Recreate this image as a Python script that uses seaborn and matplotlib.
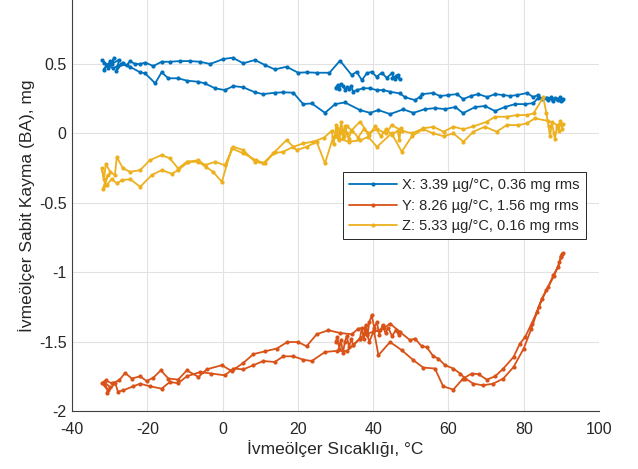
import matplotlib
matplotlib.use('Agg')
import pandas as pd
import matplotlib.pyplot as plt
import seaborn as sns

# Değerler: (sıcaklık °C, sabit kayma mg)
# X ekseni: başlangıç kümesi + ısıtma, soğutma, ikinci ısıtma
x_isitma1 = [(30.0, 0.33), (30.6, 0.35), (31.0, 0.32), (31.5, 0.355), (32.1, 0.34), (32.6, 0.31),
             (33.0, 0.335), (33.6, 0.32), (34.2, 0.34), (34.7, 0.30), (35.6, 0.312), (37.4, 0.325),
             (39.2, 0.325), (40.9, 0.312), (42.7, 0.312), (44.5, 0.30), (47.1, 0.288), (48.5, 0.26),
             (51.1, 0.24), (52.5, 0.264), (53.0, 0.283), (55.9, 0.291), (57.8, 0.269), (59.9, 0.276),
             (62.3, 0.283), (63.9, 0.247), (66.0, 0.27), (67.9, 0.283), (70.3, 0.262), (72.4, 0.283),
             (74.5, 0.276), (76.4, 0.27), (78.2, 0.276), (80.9, 0.291), (82.5, 0.262), (83.8, 0.276),
             (84.9, 0.247), (85.8, 0.255), (86.5, 0.24), (87.2, 0.26), (87.8, 0.235), (88.4, 0.255),
             (89.0, 0.24), (89.6, 0.26), (90.2, 0.24), (90.4, 0.25), (89.8, 0.235), (88.8, 0.25),
             (87.5, 0.245), (86.3, 0.255)]
x_sogutma = [(85.1, 0.254), (83.8, 0.254), (82.5, 0.218), (80.4, 0.211), (77.7, 0.211), (75.0, 0.190),
             (72.4, 0.161), (69.7, 0.197), (67.1, 0.190), (63.9, 0.146), (61.8, 0.190), (59.1, 0.175),
             (56.4, 0.182), (53.8, 0.175), (50.7, 0.148), (48.0, 0.173), (44.5, 0.139), (41.4, 0.168),
             (39.2, 0.148), (36.5, 0.168), (32.5, 0.223), (29.9, 0.211), (27.2, 0.148), (23.7, 0.216),
             (21.4, 0.211), (18.8, 0.293), (16.1, 0.296), (13.9, 0.293), (10.8, 0.283), (8.6, 0.296),
             (5.5, 0.332), (2.9, 0.341), (0.6, 0.312), (-2.0, 0.325), (-4.7, 0.36), (-6.4, 0.372),
             (-9.5, 0.38), (-11.8, 0.397), (-14.4, 0.397), (-16.2, 0.44), (-17.9, 0.361), (-20.6, 0.433),
             (-21.9, 0.44), (-24.6, 0.48), (-27.0, 0.50), (-29.0, 0.47), (-30.5, 0.49)]
x_isitma2 = [(-31.5, 0.51), (-32.0, 0.53), (-30.8, 0.49), (-31.6, 0.46), (-29.8, 0.52), (-30.5, 0.47),
             (-28.8, 0.54), (-29.5, 0.50), (-27.5, 0.53), (-28.2, 0.45), (-26.5, 0.51), (-25.5, 0.49),
             (-24.6, 0.52), (-23.2, 0.50), (-21.9, 0.50), (-20.5, 0.51), (-18.4, 0.485), (-16.2, 0.516),
             (-14.0, 0.516), (-11.3, 0.521), (-8.7, 0.521), (-6.0, 0.516), (-3.3, 0.50), (0.2, 0.536),
             (2.7, 0.545), (5.5, 0.505), (8.6, 0.529), (11.3, 0.492), (13.9, 0.461), (17.0, 0.48),
             (20.1, 0.437), (22.3, 0.44), (25.0, 0.437), (28.4, 0.437), (31.2, 0.524), (34.3, 0.42),
             (35.6, 0.444), (37.0, 0.384), (38.3, 0.432), (39.6, 0.444), (40.9, 0.408), (42.3, 0.437),
             (43.6, 0.40), (44.9, 0.432), (45.8, 0.389), (46.7, 0.42), (47.1, 0.389), (46.2, 0.41),
             (45.0, 0.40)]

# Y ekseni
y_isitma1 = [(30.0, -1.50), (30.5, -1.47), (31.0, -1.55), (31.4, -1.49), (32.0, -1.58), (32.5, -1.50),
             (33.0, -1.46), (33.6, -1.54), (34.2, -1.48), (34.7, -1.526), (36.5, -1.478), (38.3, -1.442),
             (40.0, -1.43), (41.8, -1.418), (43.0, -1.40), (44.5, -1.37), (47.1, -1.43), (49.8, -1.49),
             (51.1, -1.478), (52.9, -1.534), (54.2, -1.539), (56.0, -1.606), (57.3, -1.622), (59.1, -1.67),
             (61.3, -1.694), (63.1, -1.73), (64.5, -1.766), (66.6, -1.803), (69.2, -1.815), (71.9, -1.803),
             (74.6, -1.766), (77.3, -1.683), (80.0, -1.55), (82.0, -1.41), (84.0, -1.25), (86.0, -1.13),
             (88.0, -1.03), (89.5, -0.93), (90.3, -0.87), (90.0, -0.89), (90.4, -0.86), (89.9, -0.88)]
y_sogutma = [(89.2, -0.96), (87.9, -1.02), (86.5, -1.106), (84.8, -1.19), (83.5, -1.286), (82.1, -1.37),
             (80.4, -1.466), (79.0, -1.514), (77.3, -1.611), (74.6, -1.694), (72.4, -1.75), (70.2, -1.774),
             (68.0, -1.735), (66.2, -1.73), (63.9, -1.766), (61.3, -1.846), (58.6, -1.822), (56.4, -1.694),
             (53.3, -1.687), (50.7, -1.634), (47.6, -1.562), (44.5, -1.503), (41.4, -1.598), (40.2, -1.42),
             (39.0, -1.50), (37.8, -1.40), (36.1, -1.406), (34.3, -1.447), (31.2, -1.438), (28.1, -1.418),
             (25.0, -1.447), (22.3, -1.534), (20.1, -1.503), (17.2, -1.503), (14.4, -1.55), (11.3, -1.57),
             (8.2, -1.59), (5.5, -1.654), (2.4, -1.712), (-0.2, -1.67), (-4.2, -1.70), (-6.4, -1.755),
             (-9.5, -1.707), (-11.8, -1.774), (-14.4, -1.766), (-16.4, -1.707), (-18.4, -1.76),
             (-20.2, -1.784), (-21.9, -1.75), (-24.1, -1.766), (-25.9, -1.726), (-27.5, -1.78)]
y_isitma2 = [(-29.5, -1.80), (-31.0, -1.78), (-32.0, -1.80), (-30.5, -1.85), (-31.5, -1.79), (-29.8, -1.83),
             (-30.8, -1.87), (-28.5, -1.80), (-27.8, -1.86), (-26.4, -1.851), (-23.7, -1.822), (-21.9, -1.803),
             (-19.3, -1.822), (-16.2, -1.839), (-14.0, -1.791), (-11.8, -1.80), (-9.5, -1.75), (-6.0, -1.72),
             (-3.0, -1.73), (0.6, -1.743), (2.9, -1.694), (5.5, -1.70), (8.2, -1.67), (10.8, -1.64),
             (13.9, -1.647), (16.1, -1.606), (18.8, -1.606), (21.4, -1.63), (23.7, -1.64), (27.2, -1.575),
             (30.3, -1.567), (33.0, -1.567), (34.7, -1.526), (36.5, -1.478), (37.0, -1.40), (37.5, -1.48),
             (38.0, -1.38), (38.5, -1.45), (39.0, -1.36), (39.6, -1.31), (40.3, -1.40), (41.0, -1.36),
             (41.6, -1.45), (42.5, -1.38), (43.3, -1.44), (44.0, -1.40), (45.0, -1.46), (46.0, -1.42),
             (46.8, -1.45), (47.0, -1.43)]

# Z ekseni
z_isitma1 = [(30.0, -0.02), (30.5, 0.04), (31.0, -0.05), (31.5, 0.03), (32.0, -0.03), (32.5, 0.05),
             (33.0, 0.0), (33.5, -0.04), (34.2, 0.02), (36.5, 0.084), (38.7, 0.0), (41.0, 0.03),
             (43.5, 0.0), (44.9, 0.06), (47.6, 0.02), (50.3, 0.0), (53.3, 0.036), (56.0, 0.048),
             (58.7, 0.012), (61.3, 0.048), (64.0, 0.03), (66.6, 0.05), (70.2, 0.084), (72.4, 0.12),
             (75.5, 0.12), (78.2, 0.132), (80.8, 0.132), (82.6, 0.144), (85.2, 0.26), (86.0, 0.15),
             (86.6, 0.05), (87.0, -0.02), (87.5, 0.08), (88.0, 0.0), (88.3, -0.04), (88.8, 0.05),
             (89.3, 0.02), (89.7, 0.09), (90.2, 0.03), (90.4, 0.07)]
z_sogutma = [(89.0, 0.06), (86.5, 0.09), (83.0, 0.108), (80.8, 0.072), (78.6, 0.06), (75.5, 0.06),
             (72.8, 0.012), (69.7, 0.048), (66.6, 0.012), (64.0, -0.06), (61.3, 0.0), (58.7, -0.02),
             (56.0, 0.0), (53.3, 0.03), (50.3, -0.02), (47.6, -0.132), (44.9, 0.0), (41.0, -0.097),
             (38.7, -0.025), (36.5, -0.05), (33.5, -0.06), (29.4, -0.025), (27.2, -0.216), (25.0, -0.06),
             (22.3, -0.097), (19.7, -0.12), (17.0, -0.048), (13.9, -0.132), (10.8, -0.216), (8.6, -0.205),
             (5.5, -0.12), (2.9, -0.097), (0.6, -0.229), (-2.0, -0.205), (-4.7, -0.229), (-6.4, -0.193),
             (-9.5, -0.205), (-11.8, -0.253), (-14.0, -0.18), (-16.2, -0.156), (-19.3, -0.193),
             (-21.9, -0.265), (-24.6, -0.277), (-26.5, -0.25), (-28.1, -0.17), (-28.6, -0.30)]
z_isitma2 = [(-29.8, -0.28), (-31.0, -0.22), (-31.5, -0.33), (-32.1, -0.25), (-31.2, -0.37), (-30.5, -0.30),
             (-31.8, -0.40), (-30.8, -0.373), (-29.5, -0.33), (-28.0, -0.36), (-26.8, -0.337), (-24.5, -0.33),
             (-21.9, -0.385), (-18.8, -0.30), (-16.2, -0.265), (-13.5, -0.29), (-11.8, -0.265), (-9.1, -0.205),
             (-6.4, -0.205), (-4.5, -0.24), (-2.5, -0.277), (-0.2, -0.349), (2.4, -0.108), (5.5, -0.144),
             (8.9, -0.193), (11.2, -0.216), (13.5, -0.144), (16.1, -0.132), (18.8, -0.097), (21.4, -0.072),
             (24.1, -0.06), (27.0, -0.03), (29.0, 0.02), (29.5, -0.08), (30.2, 0.06), (30.8, -0.04),
             (31.5, 0.08), (32.3, -0.02), (33.0, 0.05), (34.5, 0.02), (36.0, -0.03), (37.5, 0.03),
             (39.0, -0.01), (40.5, 0.05), (42.0, -0.02), (43.5, 0.03), (45.0, -0.01), (46.5, 0.02),
             (47.0, -0.05), (47.3, 0.04)]

etiketler = ['X: 3.39 µg/°C, 0.36 mg rms', 'Y: 8.26 µg/°C, 1.56 mg rms', 'Z: 5.33 µg/°C, 0.16 mg rms']
renkler = ['#0072BD', '#D95319', '#EDB120']

seriler = [x_isitma1 + x_sogutma + x_isitma2,
           y_isitma1 + y_sogutma + y_isitma2,
           z_isitma1 + z_sogutma + z_isitma2]
satirlar = []
for etiket, seri in zip(etiketler, seriler):
    for i, (t, b) in enumerate(seri):
        satirlar.append({'eksen': etiket, 'sira': i, 'sicaklik': t, 'kayma': b})
df = pd.DataFrame(satirlar)

sns.set_theme(style="whitegrid", rc={'grid.color': '#e2e2e2', 'grid.linewidth': 0.8,
                                     'axes.edgecolor': '#404040', 'axes.linewidth': 0.8})
plt.rcParams['font.family'] = ['Liberation Sans', 'DejaVu Sans']

fig = plt.figure(figsize=(6.38, 4.69), dpi=100)
ax = fig.add_axes([72 / 638, 58 / 469, 527 / 638, 411 / 469])

sns.lineplot(data=df, x='sicaklik', y='kayma', hue='eksen', hue_order=etiketler,
             palette=renkler, sort=False, estimator=None, marker='.', markersize=6,
             markeredgewidth=0, linewidth=1.3, ax=ax)

ax.set_xlim(-40, 100)
ax.set_ylim(-2, 0.961)
ax.set_xticks(range(-40, 101, 20))
ax.set_yticks([-2, -1.5, -1, -0.5, 0, 0.5])
ax.set_yticklabels(['-2', '-1.5', '-1', '-0.5', '0', '0.5'])
ax.set_xticklabels([str(v) for v in range(-40, 101, 20)])
ax.tick_params(direction='in', length=4, width=0.8, color='#404040', labelcolor='#262626',
               labelsize=11.5)
ax.tick_params(axis='x', pad=8)
ax.tick_params(axis='y', pad=4)
ax.spines['top'].set_visible(False)
ax.spines['right'].set_visible(False)
ax.grid(True)

ax.set_xlabel('İvmeölçer Sıcaklığı, °C', fontsize=12.5, color='#262626', labelpad=2)
ax.set_ylabel('İvmeölçer Sabit Kayma (BA), mg', fontsize=12.5, color='#262626', labelpad=3)

leg = ax.legend(loc='upper right', bbox_to_anchor=(0.975, 0.581), fontsize=10.5,
                frameon=True, fancybox=False, framealpha=1, edgecolor='#262626',
                handlelength=3.3, labelspacing=0.45, borderpad=0.4, handletextpad=0.4,
                borderaxespad=0)
leg.get_frame().set_linewidth(0.7)

fig.savefig('out.png', dpi=100)
